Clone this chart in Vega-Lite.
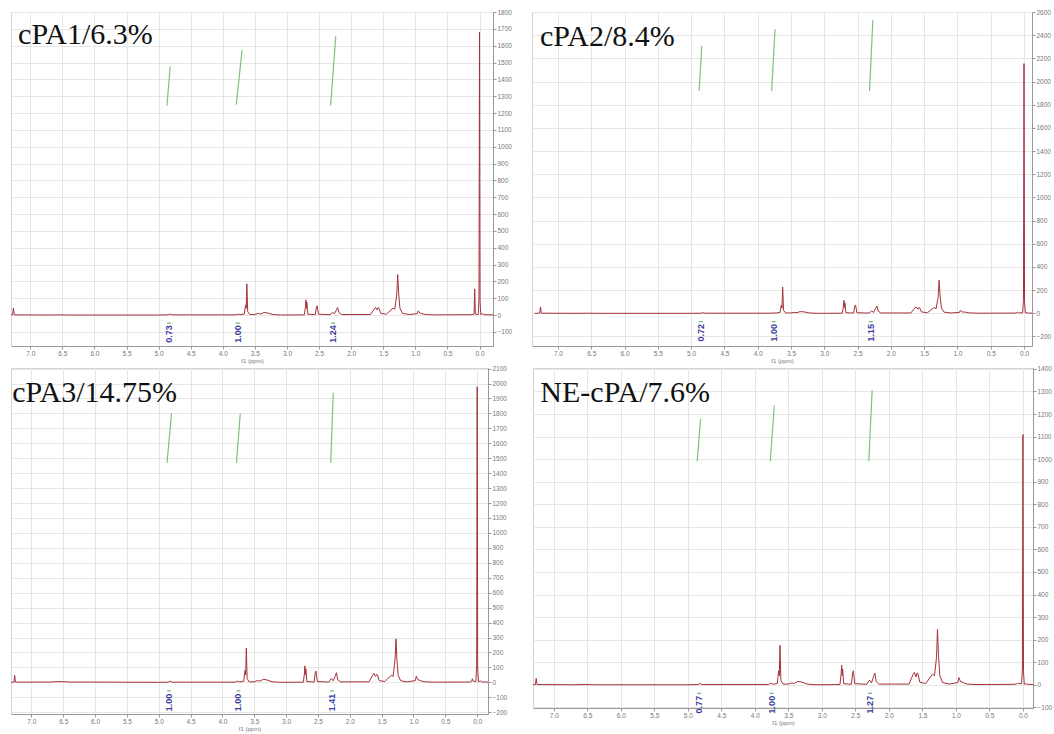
{
  "$schema": "https://vega.github.io/schema/vega-lite/v6.json",
  "padding": {"left": 10, "top": 8, "right": 0, "bottom": 0},
  "background": "white",
  "datasets": {
    "spectra": [
      {"ppm": 7.35, "cPA1": 0, "cPA2": 0, "cPA3": 0, "NE": 0},
      {"ppm": 7.275, "cPA1": 1, "cPA2": 1, "cPA3": 1, "NE": 1},
      {"ppm": 7.262, "cPA1": 42, "cPA2": 55, "cPA3": 46, "NE": 28},
      {"ppm": 7.25, "cPA1": 1, "cPA2": 1, "cPA3": 1, "NE": 1},
      {"ppm": 6.7, "cPA1": 0, "cPA2": 0, "cPA3": 2, "NE": 0},
      {"ppm": 6.55, "cPA1": 1, "cPA2": 1, "cPA3": 5, "NE": 1},
      {"ppm": 6.4, "cPA1": 0, "cPA2": 0, "cPA3": 2, "NE": 0},
      {"ppm": 5.0, "cPA1": 0, "cPA2": 0, "cPA3": 0, "NE": 0},
      {"ppm": 4.85, "cPA1": 1, "cPA2": 1, "cPA3": 1, "NE": 1},
      {"ppm": 4.82, "cPA1": 6, "cPA2": 5, "cPA3": 8, "NE": 6},
      {"ppm": 4.79, "cPA1": 1, "cPA2": 1, "cPA3": 1, "NE": 1},
      {"ppm": 3.8, "cPA1": 1, "cPA2": 1, "cPA3": 1, "NE": 1},
      {"ppm": 3.76, "cPA1": 5, "cPA2": 4, "cPA3": 8, "NE": 8},
      {"ppm": 3.73, "cPA1": 2, "cPA2": 2, "cPA3": 3, "NE": 2},
      {"ppm": 3.665, "cPA1": 6, "cPA2": 8, "cPA3": 8, "NE": 6},
      {"ppm": 3.645, "cPA1": 60, "cPA2": 72, "cPA3": 80, "NE": 62},
      {"ppm": 3.635, "cPA1": 40, "cPA2": 45, "cPA3": 50, "NE": 40},
      {"ppm": 3.625, "cPA1": 185, "cPA2": 227, "cPA3": 229, "NE": 175},
      {"ppm": 3.612, "cPA1": 20, "cPA2": 25, "cPA3": 25, "NE": 20},
      {"ppm": 3.58, "cPA1": 3, "cPA2": 3, "cPA3": 3, "NE": 3},
      {"ppm": 3.5, "cPA1": 3, "cPA2": 3, "cPA3": 4, "NE": 3},
      {"ppm": 3.45, "cPA1": 10, "cPA2": 8, "cPA3": 12, "NE": 8},
      {"ppm": 3.41, "cPA1": 6, "cPA2": 6, "cPA3": 8, "NE": 6},
      {"ppm": 3.36, "cPA1": 15, "cPA2": 15, "cPA3": 20, "NE": 15},
      {"ppm": 3.3, "cPA1": 12, "cPA2": 12, "cPA3": 16, "NE": 12},
      {"ppm": 3.22, "cPA1": 3, "cPA2": 3, "cPA3": 4, "NE": 3},
      {"ppm": 3.1, "cPA1": 0, "cPA2": 0, "cPA3": 0, "NE": 0},
      {"ppm": 2.73, "cPA1": 1, "cPA2": 1, "cPA3": 1, "NE": 1},
      {"ppm": 2.712, "cPA1": 50, "cPA2": 60, "cPA3": 60, "NE": 50},
      {"ppm": 2.705, "cPA1": 90, "cPA2": 112, "cPA3": 110, "NE": 87},
      {"ppm": 2.697, "cPA1": 40, "cPA2": 50, "cPA3": 50, "NE": 40},
      {"ppm": 2.69, "cPA1": 75, "cPA2": 90, "cPA3": 90, "NE": 70},
      {"ppm": 2.675, "cPA1": 5, "cPA2": 5, "cPA3": 5, "NE": 5},
      {"ppm": 2.56, "cPA1": 2, "cPA2": 2, "cPA3": 2, "NE": 2},
      {"ppm": 2.54, "cPA1": 50, "cPA2": 65, "cPA3": 70, "NE": 55},
      {"ppm": 2.53, "cPA1": 55, "cPA2": 72, "cPA3": 75, "NE": 62},
      {"ppm": 2.51, "cPA1": 5, "cPA2": 5, "cPA3": 5, "NE": 5},
      {"ppm": 2.33, "cPA1": 2, "cPA2": 2, "cPA3": 2, "NE": 2},
      {"ppm": 2.29, "cPA1": 15, "cPA2": 20, "cPA3": 26, "NE": 21},
      {"ppm": 2.26, "cPA1": 8, "cPA2": 8, "cPA3": 10, "NE": 8},
      {"ppm": 2.23, "cPA1": 30, "cPA2": 40, "cPA3": 40, "NE": 35},
      {"ppm": 2.21, "cPA1": 45, "cPA2": 63, "cPA3": 64, "NE": 52},
      {"ppm": 2.19, "cPA1": 15, "cPA2": 18, "cPA3": 18, "NE": 15},
      {"ppm": 2.15, "cPA1": 3, "cPA2": 3, "cPA3": 3, "NE": 3},
      {"ppm": 1.7, "cPA1": 3, "cPA2": 3, "cPA3": 3, "NE": 3},
      {"ppm": 1.64, "cPA1": 35, "cPA2": 45, "cPA3": 48, "NE": 45},
      {"ppm": 1.62, "cPA1": 45, "cPA2": 55, "cPA3": 60, "NE": 55},
      {"ppm": 1.595, "cPA1": 30, "cPA2": 35, "cPA3": 40, "NE": 35},
      {"ppm": 1.58, "cPA1": 45, "cPA2": 49, "cPA3": 53, "NE": 52},
      {"ppm": 1.565, "cPA1": 40, "cPA2": 45, "cPA3": 50, "NE": 48},
      {"ppm": 1.54, "cPA1": 10, "cPA2": 12, "cPA3": 12, "NE": 12},
      {"ppm": 1.45, "cPA1": 5, "cPA2": 5, "cPA3": 5, "NE": 5},
      {"ppm": 1.38, "cPA1": 30, "cPA2": 38, "cPA3": 35, "NE": 35},
      {"ppm": 1.35, "cPA1": 40, "cPA2": 49, "cPA3": 46, "NE": 47},
      {"ppm": 1.32, "cPA1": 35, "cPA2": 40, "cPA3": 40, "NE": 40},
      {"ppm": 1.29, "cPA1": 120, "cPA2": 140, "cPA3": 150, "NE": 120},
      {"ppm": 1.275, "cPA1": 240, "cPA2": 285, "cPA3": 291, "NE": 246},
      {"ppm": 1.26, "cPA1": 130, "cPA2": 150, "cPA3": 150, "NE": 130},
      {"ppm": 1.24, "cPA1": 40, "cPA2": 45, "cPA3": 45, "NE": 40},
      {"ppm": 1.2, "cPA1": 10, "cPA2": 10, "cPA3": 10, "NE": 10},
      {"ppm": 1.1, "cPA1": 3, "cPA2": 3, "cPA3": 3, "NE": 3},
      {"ppm": 0.97, "cPA1": 8, "cPA2": 8, "cPA3": 12, "NE": 10},
      {"ppm": 0.955, "cPA1": 25, "cPA2": 26, "cPA3": 42, "NE": 32},
      {"ppm": 0.945, "cPA1": 20, "cPA2": 20, "cPA3": 30, "NE": 24},
      {"ppm": 0.93, "cPA1": 12, "cPA2": 12, "cPA3": 18, "NE": 14},
      {"ppm": 0.88, "cPA1": 6, "cPA2": 10, "cPA3": 10, "NE": 8},
      {"ppm": 0.83, "cPA1": 3, "cPA2": 4, "cPA3": 4, "NE": 3},
      {"ppm": 0.7, "cPA1": 1, "cPA2": 1, "cPA3": 1, "NE": 1},
      {"ppm": 0.12, "cPA1": 2, "cPA2": 2, "cPA3": 2, "NE": 2},
      {"ppm": 0.1, "cPA1": 3, "cPA2": 10, "cPA3": 4, "NE": 4},
      {"ppm": 0.085, "cPA1": 5, "cPA2": 4, "cPA3": 8, "NE": 5},
      {"ppm": 0.075, "cPA1": 155, "cPA2": 6, "cPA3": 24, "NE": 8},
      {"ppm": 0.065, "cPA1": 5, "cPA2": 4, "cPA3": 8, "NE": 5},
      {"ppm": 0.02, "cPA1": 3, "cPA2": 4, "cPA3": 5, "NE": 5},
      {"ppm": 0.008, "cPA1": 100, "cPA2": 120, "cPA3": 120, "NE": 70},
      {"ppm": 0.0, "cPA1": 1680, "cPA2": 2155, "cPA3": 1978, "NE": 1109},
      {"ppm": -0.008, "cPA1": 80, "cPA2": 100, "cPA3": 100, "NE": 60},
      {"ppm": -0.02, "cPA1": 3, "cPA2": 3, "cPA3": 4, "NE": 3},
      {"ppm": -0.05, "cPA1": 8, "cPA2": 4, "cPA3": 10, "NE": 4},
      {"ppm": -0.07, "cPA1": 2, "cPA2": 2, "cPA3": 3, "NE": 2},
      {"ppm": -0.25, "cPA1": 0, "cPA2": 0, "cPA3": 0, "NE": 0}
    ],
    "integrals": [
      {"panel": "cPA1", "id": 1, "ppm": 4.87, "value": 1244},
      {"panel": "cPA1", "id": 1, "ppm": 4.82, "value": 1476},
      {"panel": "cPA1", "id": 2, "ppm": 3.79, "value": 1250},
      {"panel": "cPA1", "id": 2, "ppm": 3.70, "value": 1573},
      {"panel": "cPA1", "id": 3, "ppm": 2.32, "value": 1244},
      {"panel": "cPA1", "id": 3, "ppm": 2.24, "value": 1656},
      {"panel": "cPA2", "id": 1, "ppm": 4.88, "value": 1919},
      {"panel": "cPA2", "id": 1, "ppm": 4.84, "value": 2308},
      {"panel": "cPA2", "id": 2, "ppm": 3.79, "value": 1919},
      {"panel": "cPA2", "id": 2, "ppm": 3.74, "value": 2452},
      {"panel": "cPA2", "id": 3, "ppm": 2.32, "value": 1919},
      {"panel": "cPA2", "id": 3, "ppm": 2.27, "value": 2532},
      {"panel": "cPA3", "id": 1, "ppm": 4.87, "value": 1469},
      {"panel": "cPA3", "id": 1, "ppm": 4.80, "value": 1799},
      {"panel": "cPA3", "id": 2, "ppm": 3.78, "value": 1469},
      {"panel": "cPA3", "id": 2, "ppm": 3.72, "value": 1799},
      {"panel": "cPA3", "id": 3, "ppm": 2.30, "value": 1469},
      {"panel": "cPA3", "id": 3, "ppm": 2.26, "value": 1938},
      {"panel": "NE", "id": 1, "ppm": 4.86, "value": 991},
      {"panel": "NE", "id": 1, "ppm": 4.81, "value": 1178},
      {"panel": "NE", "id": 2, "ppm": 3.77, "value": 991},
      {"panel": "NE", "id": 2, "ppm": 3.71, "value": 1239},
      {"panel": "NE", "id": 3, "ppm": 2.30, "value": 991},
      {"panel": "NE", "id": 3, "ppm": 2.25, "value": 1305}
    ],
    "intlabels": [
      {"panel": "cPA1", "ppm": 4.84, "start": 4.87, "end": 4.81, "value": -113, "bracket": -48, "label": "0.73"},
      {"panel": "cPA1", "ppm": 3.77, "start": 3.80, "end": 3.73, "value": -113, "bracket": -48, "label": "1.00"},
      {"panel": "cPA1", "ppm": 2.28, "start": 2.31, "end": 2.25, "value": -113, "bracket": -48, "label": "1.24"},
      {"panel": "cPA2", "ppm": 4.85, "start": 4.88, "end": 4.82, "value": -167, "bracket": -72, "label": "0.72"},
      {"panel": "cPA2", "ppm": 3.76, "start": 3.79, "end": 3.73, "value": -167, "bracket": -72, "label": "1.00"},
      {"panel": "cPA2", "ppm": 2.30, "start": 2.33, "end": 2.27, "value": -167, "bracket": -72, "label": "1.15"},
      {"panel": "cPA3", "ppm": 4.84, "start": 4.87, "end": 4.81, "value": -135, "bracket": -57, "label": "1.00"},
      {"panel": "cPA3", "ppm": 3.75, "start": 3.78, "end": 3.72, "value": -135, "bracket": -57, "label": "1.00"},
      {"panel": "cPA3", "ppm": 2.28, "start": 2.31, "end": 2.25, "value": -135, "bracket": -57, "label": "1.41"},
      {"panel": "NE", "ppm": 4.83, "start": 4.86, "end": 4.80, "value": -88, "bracket": -38, "label": "0.77"},
      {"panel": "NE", "ppm": 3.75, "start": 3.78, "end": 3.72, "value": -88, "bracket": -38, "label": "1.00"},
      {"panel": "NE", "ppm": 2.28, "start": 2.31, "end": 2.25, "value": -88, "bracket": -38, "label": "1.27"}
    ],
    "titles": [
      {"panel": "cPA1", "ppm": 7.19, "value": 1607, "label": "cPA1/6.3%"},
      {"panel": "cPA2", "ppm": 7.27, "value": 2308, "label": "cPA2/8.4%"},
      {"panel": "cPA3", "ppm": 7.30, "value": 1876, "label": "cPA3/14.75%"},
      {"panel": "NE", "ppm": 7.20, "value": 1252, "label": "NE-cPA/7.6%"}
    ]
  },
  "vconcat": [
    {
      "spacing": 17,
      "hconcat": [
        {
          "width": 482, "height": 334,
          "layer": [
            {"data": {"name": "spectra"}, "mark": {"type": "line", "color": "#a3323b", "strokeWidth": 1, "clip": true},
             "encoding": {
               "x": {"field": "ppm", "type": "quantitative", "scale": {"domain": [-0.21, 7.30], "reverse": true, "nice": false, "zero": false},
                     "axis": {"values": [0,0.5,1,1.5,2,2.5,3,3.5,4,4.5,5,5.5,6,6.5,7], "format": ".1f", "title": "f1 (ppm)"}},
               "y": {"field": "cPA1", "type": "quantitative", "scale": {"domain": [-184, 1800], "nice": false, "zero": false},
                     "axis": {"orient": "right", "title": null, "format": "d", "values": [-100,0,100,200,300,400,500,600,700,800,900,1000,1100,1200,1300,1400,1500,1600,1700,1800]}}
             }},
            {"data": {"name": "integrals"}, "transform": [{"filter": "datum.panel === 'cPA1'"}], "mark": {"type": "line", "color": "#7cc47c", "strokeWidth": 1.2},
             "encoding": {"x": {"field": "ppm", "type": "quantitative"}, "y": {"field": "value", "type": "quantitative"}, "detail": {"field": "id"}}},
            {"data": {"name": "intlabels"}, "transform": [{"filter": "datum.panel === 'cPA1'"}], "mark": {"type": "rule", "color": "#6cb86c", "strokeWidth": 1.2},
             "encoding": {"x": {"field": "start", "type": "quantitative"}, "x2": {"field": "end"}, "y": {"field": "bracket", "type": "quantitative"}}},
            {"data": {"name": "intlabels"}, "transform": [{"filter": "datum.panel === 'cPA1'"}], "mark": {"type": "text", "angle": 270, "color": "#3b3ba0", "fontSize": 9, "fontWeight": "bold", "font": "Liberation Sans", "align": "center", "baseline": "middle"},
             "encoding": {"x": {"field": "ppm", "type": "quantitative"}, "y": {"field": "value", "type": "quantitative"}, "text": {"field": "label"}}},
            {"data": {"name": "titles"}, "transform": [{"filter": "datum.panel === 'cPA1'"}], "mark": {"type": "text", "font": "Liberation Serif", "fontSize": 30, "color": "#111", "align": "left", "baseline": "alphabetic"},
             "encoding": {"x": {"field": "ppm", "type": "quantitative"}, "y": {"field": "value", "type": "quantitative"}, "text": {"field": "label"}}}
          ]
        },
        {
          "width": 500, "height": 334,
          "layer": [
            {"data": {"name": "spectra"}, "mark": {"type": "line", "color": "#a3323b", "strokeWidth": 1, "clip": true},
             "encoding": {
               "x": {"field": "ppm", "type": "quantitative", "scale": {"domain": [-0.12, 7.39], "reverse": true, "nice": false, "zero": false},
                     "axis": {"values": [0,0.5,1,1.5,2,2.5,3,3.5,4,4.5,5,5.5,6,6.5,7], "format": ".1f", "title": "f1 (ppm)"}},
               "y": {"field": "cPA2", "type": "quantitative", "scale": {"domain": [-282, 2600], "nice": false, "zero": false},
                     "axis": {"orient": "right", "title": null, "format": "d", "values": [-200,0,200,400,600,800,1000,1200,1400,1600,1800,2000,2200,2400,2600]}}
             }},
            {"data": {"name": "integrals"}, "transform": [{"filter": "datum.panel === 'cPA2'"}], "mark": {"type": "line", "color": "#7cc47c", "strokeWidth": 1.2},
             "encoding": {"x": {"field": "ppm", "type": "quantitative"}, "y": {"field": "value", "type": "quantitative"}, "detail": {"field": "id"}}},
            {"data": {"name": "intlabels"}, "transform": [{"filter": "datum.panel === 'cPA2'"}], "mark": {"type": "rule", "color": "#6cb86c", "strokeWidth": 1.2},
             "encoding": {"x": {"field": "start", "type": "quantitative"}, "x2": {"field": "end"}, "y": {"field": "bracket", "type": "quantitative"}}},
            {"data": {"name": "intlabels"}, "transform": [{"filter": "datum.panel === 'cPA2'"}], "mark": {"type": "text", "angle": 270, "color": "#3b3ba0", "fontSize": 9, "fontWeight": "bold", "font": "Liberation Sans", "align": "center", "baseline": "middle"},
             "encoding": {"x": {"field": "ppm", "type": "quantitative"}, "y": {"field": "value", "type": "quantitative"}, "text": {"field": "label"}}},
            {"data": {"name": "titles"}, "transform": [{"filter": "datum.panel === 'cPA2'"}], "mark": {"type": "text", "font": "Liberation Serif", "fontSize": 30, "color": "#111", "align": "left", "baseline": "alphabetic"},
             "encoding": {"x": {"field": "ppm", "type": "quantitative"}, "y": {"field": "value", "type": "quantitative"}, "text": {"field": "label"}}}
          ]
        }
      ]
    },
    {
      "spacing": 23,
      "hconcat": [
        {
          "width": 477, "height": 346,
          "layer": [
            {"data": {"name": "spectra"}, "mark": {"type": "line", "color": "#a3323b", "strokeWidth": 1, "clip": true},
             "encoding": {
               "x": {"field": "ppm", "type": "quantitative", "scale": {"domain": [-0.17, 7.32], "reverse": true, "nice": false, "zero": false},
                     "axis": {"values": [0,0.5,1,1.5,2,2.5,3,3.5,4,4.5,5,5.5,6,6.5,7], "format": ".1f", "title": "f1 (ppm)"}},
               "y": {"field": "cPA3", "type": "quantitative", "scale": {"domain": [-212, 2104], "nice": false, "zero": false},
                     "axis": {"orient": "right", "title": null, "format": "d", "values": [-200,-100,0,100,200,300,400,500,600,700,800,900,1000,1100,1200,1300,1400,1500,1600,1700,1800,1900,2000,2100]}}
             }},
            {"data": {"name": "integrals"}, "transform": [{"filter": "datum.panel === 'cPA3'"}], "mark": {"type": "line", "color": "#7cc47c", "strokeWidth": 1.2},
             "encoding": {"x": {"field": "ppm", "type": "quantitative"}, "y": {"field": "value", "type": "quantitative"}, "detail": {"field": "id"}}},
            {"data": {"name": "intlabels"}, "transform": [{"filter": "datum.panel === 'cPA3'"}], "mark": {"type": "rule", "color": "#6cb86c", "strokeWidth": 1.2},
             "encoding": {"x": {"field": "start", "type": "quantitative"}, "x2": {"field": "end"}, "y": {"field": "bracket", "type": "quantitative"}}},
            {"data": {"name": "intlabels"}, "transform": [{"filter": "datum.panel === 'cPA3'"}], "mark": {"type": "text", "angle": 270, "color": "#3b3ba0", "fontSize": 9, "fontWeight": "bold", "font": "Liberation Sans", "align": "center", "baseline": "middle"},
             "encoding": {"x": {"field": "ppm", "type": "quantitative"}, "y": {"field": "value", "type": "quantitative"}, "text": {"field": "label"}}},
            {"data": {"name": "titles"}, "transform": [{"filter": "datum.panel === 'cPA3'"}], "mark": {"type": "text", "font": "Liberation Serif", "fontSize": 30, "color": "#111", "align": "left", "baseline": "alphabetic"},
             "encoding": {"x": {"field": "ppm", "type": "quantitative"}, "y": {"field": "value", "type": "quantitative"}, "text": {"field": "label"}}}
          ]
        },
        {
          "width": 500, "height": 340,
          "layer": [
            {"data": {"name": "spectra"}, "mark": {"type": "line", "color": "#a3323b", "strokeWidth": 1, "clip": true},
             "encoding": {
               "x": {"field": "ppm", "type": "quantitative", "scale": {"domain": [-0.15, 7.31], "reverse": true, "nice": false, "zero": false},
                     "axis": {"values": [0,0.5,1,1.5,2,2.5,3,3.5,4,4.5,5,5.5,6,6.5,7], "format": ".1f", "title": "f1 (ppm)"}},
               "y": {"field": "NE", "type": "quantitative", "scale": {"domain": [-103, 1404], "nice": false, "zero": false},
                     "axis": {"orient": "right", "title": null, "format": "d", "values": [-100,0,100,200,300,400,500,600,700,800,900,1000,1100,1200,1300,1400]}}
             }},
            {"data": {"name": "integrals"}, "transform": [{"filter": "datum.panel === 'NE'"}], "mark": {"type": "line", "color": "#7cc47c", "strokeWidth": 1.2},
             "encoding": {"x": {"field": "ppm", "type": "quantitative"}, "y": {"field": "value", "type": "quantitative"}, "detail": {"field": "id"}}},
            {"data": {"name": "intlabels"}, "transform": [{"filter": "datum.panel === 'NE'"}], "mark": {"type": "rule", "color": "#6cb86c", "strokeWidth": 1.2},
             "encoding": {"x": {"field": "start", "type": "quantitative"}, "x2": {"field": "end"}, "y": {"field": "bracket", "type": "quantitative"}}},
            {"data": {"name": "intlabels"}, "transform": [{"filter": "datum.panel === 'NE'"}], "mark": {"type": "text", "angle": 270, "color": "#3b3ba0", "fontSize": 9, "fontWeight": "bold", "font": "Liberation Sans", "align": "center", "baseline": "middle"},
             "encoding": {"x": {"field": "ppm", "type": "quantitative"}, "y": {"field": "value", "type": "quantitative"}, "text": {"field": "label"}}},
            {"data": {"name": "titles"}, "transform": [{"filter": "datum.panel === 'NE'"}], "mark": {"type": "text", "font": "Liberation Serif", "fontSize": 30, "color": "#111", "align": "left", "baseline": "alphabetic"},
             "encoding": {"x": {"field": "ppm", "type": "quantitative"}, "y": {"field": "value", "type": "quantitative"}, "text": {"field": "label"}}}
          ]
        }
      ]
    }
  ],
  "spacing": 1,
  "config": {
    "view": {"stroke": "#d4d4d4", "strokeWidth": 1},
    "axis": {"labelFont": "Liberation Sans", "labelFontSize": 6.5, "labelColor": "#777777", "tickColor": "#999999", "domainColor": "#999999", "tickSize": 3, "tickCount": 100, "labelPadding": 1, "labelOverlap": false, "labelBound": false, "gridColor": "#e6e6e6", "gridWidth": 1, "titleFont": "Liberation Sans", "titleFontSize": 6, "titleFontWeight": "normal", "titleColor": "#777777"},
    "axisX": {"minExtent": 11, "maxExtent": 11, "titlePadding": 0},
    "axisY": {"minExtent": 20, "maxExtent": 20}
  }
}
